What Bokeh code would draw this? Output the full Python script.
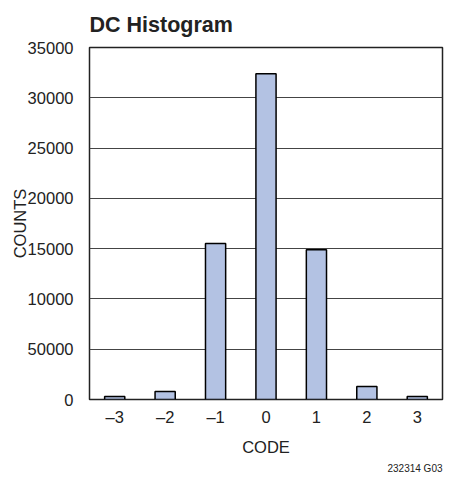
from bokeh.plotting import figure
from bokeh.models import FixedTicker, Title
from bokeh.embed import file_html
from bokeh.resources import INLINE

codes = [-3, -2, -1, 0, 1, 2, 3]
counts = [300, 800, 15500, 32400, 14900, 1300, 300]
x_tick_labels = ["–3", "–2", "–1", "0", "1", "2", "3"]
y_ticks = [0, 5000, 10000, 15000, 20000, 25000, 30000, 35000]
y_tick_labels = ["0", "50000", "10000", "15000", "20000", "25000", "30000", "35000"]

FONT = "Liberation Sans"

p = figure(width=450, height=487, output_backend="svg", toolbar_location=None,
           x_range=(-3.5, 3.5), y_range=(0, 35000),
           min_border_left=89, min_border_right=8, min_border_top=5, min_border_bottom=88)

p.vbar(x=codes, top=counts, width=0.4, bottom=0,
       fill_color="#b3c2e3", line_color="black", line_width=1.5)

p.title.text = "DC Histogram"
p.title.text_font = FONT
p.title.text_font_size = "21.5px"
p.title.text_font_style = "bold"
p.title.text_color = "#222222"
p.title.offset = 0
p.title.standoff = 21

p.outline_line_color = "#222222"
p.outline_line_width = 1.5
p.outline_line_alpha = 1

p.xaxis.ticker = FixedTicker(ticks=codes)
p.xaxis.major_label_overrides = {c: l for c, l in zip(codes, x_tick_labels)}
p.yaxis.ticker = FixedTicker(ticks=y_ticks)
p.yaxis.major_label_overrides = {t: l for t, l in zip(y_ticks, y_tick_labels)}

for ax in (p.xaxis[0], p.yaxis[0]):
    ax.axis_line_color = None
    ax.major_tick_line_color = None
    ax.minor_tick_line_color = None
    ax.major_label_text_font = FONT
    ax.major_label_text_font_size = "16.5px"
    ax.major_label_text_color = "#222222"
    ax.axis_label_text_font = FONT
    ax.axis_label_text_font_size = "16.5px"
    ax.axis_label_text_font_style = "normal"
    ax.axis_label_text_color = "#222222"

p.xaxis.axis_label = "CODE"
p.yaxis.axis_label = "COUNTS"
p.xaxis.major_label_standoff = 2
p.xaxis.axis_label_standoff = 9
p.yaxis.major_label_standoff = 10
p.yaxis.axis_label_standoff = -4

p.xgrid.grid_line_color = None
p.ygrid.grid_line_color = "#444444"
p.ygrid.grid_line_width = 1

note = Title(text="232314 G03", align="right", text_font=FONT, text_font_size="10px",
             text_font_style="normal", text_color="#222222", offset=0, standoff=5)
p.add_layout(note, "below")

open("out.html", "w").write(file_html(p, INLINE))
